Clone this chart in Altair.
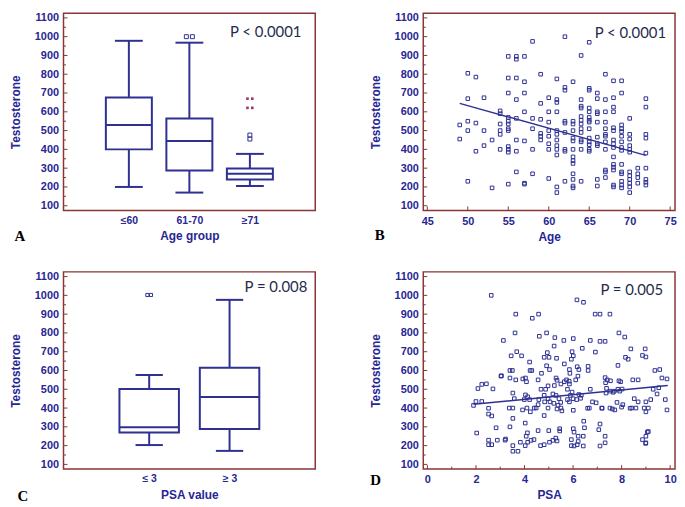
import json
import altair as alt
import pandas as pd

# ---------------- colours / sizes ----------------
NAVY = "#2E3192"
LABEL = "#262694"
BORDER = "#8B3535"
PTEXT = "#1F2B4D"
FAR = "#A3346E"
W, H = 254, 199

# ---------------- data ----------------
# Panel A: testosterone by age group (box plot)
age_groups = ["≤60", "61-70", "≥71"]
a_low = [200, 170, 205]
a_q1 = [400, 287, 240]
a_med = [530, 444, 270]
a_q3 = [676, 564, 298]
a_high = [978, 968, 376]
a_out_group = [2, 2, 3, 3]
a_out_value = [1000, 1000, 476, 455]
a_far_group = [3, 3, 3, 3]
a_far_value = [670, 670, 621, 621]

# Panel C: testosterone by PSA value (box plot)
psa_groups = ["≤ 3", "≥ 3"]
c_low = [203, 172]
c_q1 = [270, 289]
c_med = [298, 459]
c_q3 = [502, 614]
c_high = [576, 976]
c_out_group = [1, 1]
c_out_value = [1002, 1002]

# Panel B: age vs testosterone
ages_b = [49, 50, 51, 52, 53, 54, 55, 56, 57, 58, 59, 60,
          61, 62, 63, 64, 65, 66, 67, 68, 69, 70, 71, 72]
counts_b = [2, 5, 3, 3, 2, 6, 12, 8, 7, 5, 6, 8,
            12, 9, 14, 13, 14, 10, 12, 15, 15, 12, 4, 9]
testo_b = [
    530, 455,
    805, 670, 550, 500, 230,
    785, 540, 390,
    675, 500, 420,
    450, 195,
    605, 590, 535, 500, 480, 400,
    895, 780, 700, 570, 550, 535, 510, 500, 415, 400, 385, 215,
    895, 880, 780, 665, 565, 450, 390, 280,
    895, 760, 700, 600, 445, 220, 215,
    975, 565, 510, 400, 270,
    800, 645, 560, 485, 470, 450,
    675, 600, 545, 500, 470, 430, 400, 245,
    775, 665, 650, 600, 500, 480, 450, 420, 400, 370, 200, 170,
    1000, 730, 715, 550, 540, 490, 400, 390, 230,
    760, 550, 535, 500, 460, 445, 400, 360, 340, 325, 270, 240, 205, 195,
    900, 665, 630, 620, 575, 555, 535, 510, 490, 450, 440, 400, 230,
    970, 725, 715, 620, 600, 570, 555, 545, 510, 460, 440, 425, 400, 390,
    700, 670, 600, 590, 545, 465, 430, 420, 240, 205,
    800, 665, 600, 545, 510, 480, 470, 440, 400, 290, 280, 250,
    765, 675, 625, 600, 515, 500, 450, 430, 410, 360, 320, 305, 290, 210, 200,
    765, 700, 530, 510, 495, 470, 440, 410, 395, 320, 280, 270, 230, 210, 195,
    565, 480, 455, 420, 400, 385, 280, 260, 240, 220, 200, 170,
    300, 270, 250, 220,
    670, 625, 480, 460, 380, 300, 240, 225, 210,
]
age_b = [a for a, c in zip(ages_b, counts_b) for _ in range(c)]
reg_b_x = [49, 72]
reg_b_y = [645, 368]

# Panel D: PSA vs testosterone
psa_d = [
    2.63, 3.13, 3.05, 2.08, 2.24, 2.43, 2.70, 1.90, 2.00, 2.24,
    2.52, 2.52, 2.65, 2.83, 2.03, 2.52, 2.52, 2.65, 2.88, 3.20,
    3.64, 4.58, 4.32, 6.16, 6.43, 6.91, 7.11, 7.52, 3.61, 4.91,
    4.61, 5.25, 6.01, 5.62, 6.71, 7.11, 7.32, 7.89, 8.13, 6.38,
    8.38, 8.97, 5.22, 3.68, 4.94, 5.96, 6.92, 3.88, 3.45, 4.81,
    5.01, 5.32, 6.01, 5.93, 8.16, 8.27, 8.86, 9.00, 4.21, 5.64,
    3.40, 3.50, 4.23, 4.30, 4.91, 5.03, 5.85, 6.24, 6.17, 5.87,
    6.62, 6.62, 4.70, 7.85, 9.37, 9.57, 3.03, 3.40, 3.64, 3.93,
    4.04, 4.08, 4.56, 5.30, 5.34, 5.73, 5.84, 6.11, 6.20, 7.32,
    7.41, 7.54, 7.89, 7.96, 8.46, 8.68, 9.66, 9.87, 3.52, 3.58,
    3.37, 3.52, 3.52, 3.40, 3.22, 3.52, 3.52, 3.73, 4.04, 4.13,
    3.99, 4.21, 3.92, 4.10, 4.24, 4.40, 4.48, 4.03, 4.12, 4.07,
    3.83, 4.13, 4.27, 4.03, 4.39, 4.56, 4.59, 4.68, 4.87, 4.97,
    4.81, 4.83, 4.97, 5.05, 4.97, 4.81, 4.56, 5.00, 4.66, 4.81,
    5.03, 5.17, 5.29, 5.34, 5.17, 5.30, 5.42, 5.49, 5.38, 5.21,
    5.34, 5.50, 5.54, 5.23, 5.50, 5.45, 5.45, 5.64, 5.85, 5.77,
    5.96, 5.89, 6.00, 5.77, 5.85, 6.01, 6.01, 6.04, 5.93, 5.93,
    6.04, 6.17, 6.21, 6.42, 6.21, 6.44, 6.47, 6.42, 6.15, 6.31,
    6.34, 6.24, 6.67, 6.71, 6.80, 6.95, 7.06, 7.11, 7.11, 7.32,
    7.32, 7.18, 7.52, 7.62, 7.72, 7.34, 7.38, 7.36, 7.52, 7.70,
    7.85, 7.92, 7.81, 8.00, 8.05, 8.42, 8.59, 8.52, 8.68, 9.00,
    9.20, 9.00, 8.93, 9.10, 9.30, 9.46, 9.53, 9.80, 9.87, 8.86,
    9.00, 9.06, 9.00, 7.65, 8.02, 8.35, 6.60, 7.20, 9.10, 8.99,
]
testo_d = [
    1000, 760, 572, 504, 526, 529, 502, 414, 435, 435,
    399, 368, 358, 295, 267, 229, 205, 205, 229, 229,
    900, 900, 878, 976, 963, 900, 900, 900, 800, 800,
    782, 775, 770, 760, 760, 755, 755, 800, 778, 718,
    715, 715, 730, 700, 695, 700, 698, 678, 678, 670,
    670, 665, 678, 660, 670, 660, 680, 672, 645, 635,
    600, 600, 600, 600, 625, 605, 605, 605, 620, 585,
    622, 600, 585, 627, 600, 605, 570, 560, 550, 555,
    560, 540, 550, 560, 548, 550, 543, 550, 570, 562,
    550, 545, 545, 540, 550, 550, 560, 555, 480, 450,
    400, 400, 345, 300, 235, 200, 170, 170, 470, 460,
    445, 445, 390, 400, 380, 400, 400, 320, 268, 250,
    218, 218, 228, 200, 232, 418, 445, 500, 500, 518,
    468, 433, 450, 433, 400, 360, 280, 280, 200, 205,
    218, 228, 240, 225, 475, 467, 450, 430, 415, 425,
    395, 400, 385, 520, 528, 290, 278, 540, 528, 500,
    485, 467, 450, 445, 433, 388, 290, 272, 232, 200,
    198, 205, 250, 250, 222, 330, 295, 198, 445, 452,
    468, 472, 400, 500, 433, 428, 285, 315, 198, 215,
    250, 400, 400, 395, 390, 535, 505, 480, 490, 490,
    500, 490, 430, 405, 418, 400, 400, 450, 433, 433,
    445, 380, 400, 400, 500, 475, 508, 445, 390, 232,
    250, 272, 215, 484, 501, 399, 399, 399, 275, 212,
]
reg_d_x = [1.9, 9.9]
reg_d_y = [420, 520]

y_major = list(range(100, 1101, 100))
y_minor = list(range(150, 1051, 100))
age_ticks = [45, 50, 55, 60, 65, 70, 75]
psa_ticks = [0, 2, 4, 6, 8, 10]
psa_minor = [1, 3, 5, 7, 9]

# ---------------- helpers ----------------
yscale = alt.Scale(domain=[75, 1125], nice=False, zero=False)

Y_AXIS = alt.Axis(values=y_major, format="d", ticks=False, domain=False, grid=False,
                  labelFontSize=11, labelFontWeight="bold", labelColor=LABEL,
                  labelPadding=5, labelOverlap=False,
                  title="Testosterone", titleFontSize=12, titleFontWeight="bold",
                  titleColor=LABEL, titlePadding=12)


def Yq(field):
    # every layer carries the same axis definition so that the shared axis is kept
    return alt.Y(field, type="quantitative", scale=yscale, axis=Y_AXIS)


def x_axis(values, title, label_expr=None, size=11):
    kw = dict(values=values, ticks=False, domain=False, grid=False,
              labelFontSize=size, labelFontWeight="bold", labelColor=LABEL,
              labelPadding=5, labelFlush=False, labelOverlap=False,
              title=title, titleFontSize=12, titleFontWeight="bold",
              titleColor=LABEL, titlePadding=5)
    if label_expr is not None:
        kw["labelExpr"] = label_expr
    else:
        kw["format"] = "d"
    return alt.Axis(**kw)


def y_tick_layers():
    return [
        alt.Chart(pd.DataFrame({"v": y_major})).mark_rule(color=BORDER, strokeWidth=1)
        .encode(y=Yq("v"), x=alt.value(0), x2=alt.value(4)),
        alt.Chart(pd.DataFrame({"v": y_minor})).mark_rule(color=BORDER, strokeWidth=1)
        .encode(y=Yq("v"), x=alt.value(0), x2=alt.value(2.5)),
    ]


def text_layer(text, x, y, **kw):
    return alt.Chart(pd.DataFrame({"t": [text]})).mark_text(**kw).encode(
        text="t:N", x=alt.value(x), y=alt.value(y))


def p_layer(text, right_gap, y):
    return text_layer(text, W - right_gap, y, font="Lato", fontSize=15,
                      color=PTEXT, align="right", baseline="middle")


def letter_layer(letter, x, y):
    return text_layer(letter, x, y, font="Liberation Serif", fontSize=15,
                      fontWeight="bold", color="black", align="center",
                      baseline="middle")


def dup_points(groups, values, spread):
    return (alt.Chart(pd.DataFrame({"g": groups, "v": values}))
            .transform_window(k="row_number()", groupby=["g", "v"])
            .transform_joinaggregate(n="count()", groupby=["g", "v"])
            .transform_calculate(px=f"datum.g + (datum.k - (datum.n + 1) / 2) * {spread}"))


def box_panel(groups, low, q1, med, q3, high, xdomain, half, cap,
              out_g, out_v, out_spread, out_size, title, label_size,
              ptext, p_gap, p_y, letter, lx, ly, far_g=None, far_v=None):
    pos = list(range(1, len(groups) + 1))
    xscale = alt.Scale(domain=xdomain, nice=False, zero=False)
    label_expr = json.dumps(groups, ensure_ascii=False) + "[datum.value - 1]"
    xax = x_axis(pos, title, label_expr, label_size)

    def Xq(field):
        return alt.X(field, type="quantitative", scale=xscale, axis=xax)

    df = pd.DataFrame({"pos": pos, "low": low, "q1": q1, "med": med, "q3": q3, "high": high})
    base = alt.Chart(df).transform_calculate(
        bl=f"datum.pos - {half}", br=f"datum.pos + {half}",
        cl=f"datum.pos - {cap}", cr=f"datum.pos + {cap}")
    whisker = base.mark_rule(color=NAVY, strokeWidth=2).encode(
        x=Xq("pos"), y=Yq("low"), y2="high:Q")
    cap_lo = base.mark_rule(color=NAVY, strokeWidth=2).encode(x=Xq("cl"), x2="cr:Q", y=Yq("low"))
    cap_hi = base.mark_rule(color=NAVY, strokeWidth=2).encode(x=Xq("cl"), x2="cr:Q", y=Yq("high"))
    box = base.mark_rect(fill="white", stroke=NAVY, strokeWidth=2).encode(
        x=Xq("bl"), x2="br:Q", y=Yq("q1"), y2="q3:Q")
    median = base.mark_rule(color=NAVY, strokeWidth=2).encode(x=Xq("bl"), x2="br:Q", y=Yq("med"))
    outl = dup_points(out_g, out_v, out_spread).mark_point(
        shape="square", filled=False, size=out_size, color=NAVY, strokeWidth=1, opacity=1
    ).encode(x=Xq("px"), y=Yq("v"))
    layers = [whisker, cap_lo, cap_hi, box, median, outl]
    if far_g is not None:
        far = dup_points(far_g, far_v, 0.08).mark_square(
            size=7, color=FAR, opacity=1).encode(x=Xq("px"), y=Yq("v"))
        layers.append(far)
    layers += y_tick_layers()
    layers += [p_layer(ptext, p_gap, p_y), letter_layer(letter, lx, ly)]
    return alt.layer(*layers).properties(width=W, height=H)


def scatter_panel(xv, yv, xdomain, x_major, x_minor, title, reg_x, reg_y,
                  ptext, p_gap, p_y, letter, lx, ly):
    xscale = alt.Scale(domain=xdomain, nice=False, zero=False)
    xax = x_axis(x_major, title)

    def Xq(field):
        return alt.X(field, type="quantitative", scale=xscale, axis=xax)

    pts = alt.Chart(pd.DataFrame({"x": xv, "y": yv})).mark_point(
        shape="square", filled=False, size=13, color=NAVY, strokeWidth=1, opacity=1
    ).encode(x=Xq("x"), y=Yq("y"))
    line = alt.Chart(pd.DataFrame({"x": reg_x, "y": reg_y})).mark_line(
        color=NAVY, strokeWidth=1.5).encode(x=Xq("x"), y=Yq("y"))
    layers = [pts, line]
    layers.append(alt.Chart(pd.DataFrame({"v": x_major})).mark_rule(color=BORDER, strokeWidth=1)
                  .encode(x=Xq("v"), y=alt.value(H), y2=alt.value(H - 4)))
    if x_minor:
        layers.append(alt.Chart(pd.DataFrame({"v": x_minor})).mark_rule(color=BORDER, strokeWidth=1)
                      .encode(x=Xq("v"), y=alt.value(H), y2=alt.value(H - 2.5)))
    layers += y_tick_layers()
    layers += [p_layer(ptext, p_gap, p_y), letter_layer(letter, lx, ly)]
    return alt.layer(*layers).properties(width=W, height=H)


panel_a = box_panel(age_groups, a_low, a_q1, a_med, a_q3, a_high, [-0.08, 4.08], 0.38, 0.23,
                    a_out_group, a_out_value, 0.1, 16, "Age group", 10.5,
                    "P < 0.0001", 14, 19, "A", -44, H + 26,
                    far_g=a_far_group, far_v=a_far_value)
panel_b = scatter_panel(age_b, testo_b, [44.5, 75.6], age_ticks, None, "Age",
                        reg_b_x, reg_b_y, "P < 0.0001", 9, 20, "B", -44, H + 25)
panel_c = box_panel(psa_groups, c_low, c_q1, c_med, c_q3, c_high, [-0.066, 3.066], 0.37, 0.17,
                    c_out_group, c_out_value, 0.045, 10, "PSA value", 10.5,
                    "P = 0.008", 8, 15, "C", -41, H + 27)
panel_d = scatter_panel(psa_d, testo_d, [-0.17, 10.2], psa_ticks, psa_minor, "PSA",
                        reg_d_x, reg_d_y, "P = 0.005", 12, 18, "D", -48, H + 11)

chart = (
    alt.concat(panel_a, panel_b, panel_c, panel_d, columns=2,
               spacing={"row": 62, "column": 109}, bounds="flush")
    .properties(padding={"left": 0, "top": 0, "right": 0, "bottom": 0})
    .configure(font="Liberation Sans", background="white")
    .configure_view(stroke=BORDER, strokeWidth=1.5)
)

chart.save("out.html", embed_options={"renderer": "svg", "actions": False})
